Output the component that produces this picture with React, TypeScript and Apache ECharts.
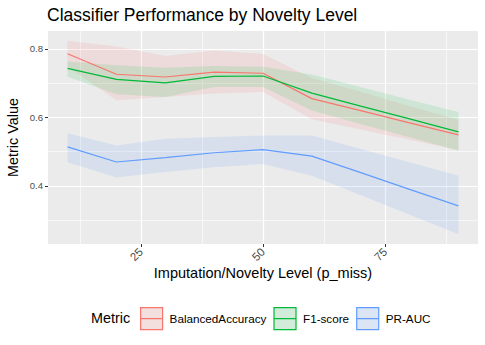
import React, { useEffect, useRef } from "react";
import * as echarts from "echarts";

// ---- data ----
const pMiss = [10, 20, 30, 40, 50, 60, 70, 80, 90];
const metrics = ["BalancedAccuracy", "F1-score", "PR-AUC"];

const baMean = [0.786, 0.726, 0.718, 0.732, 0.729, 0.655, 0.62, 0.584, 0.549];
const baLower = [0.748, 0.65, 0.66, 0.67, 0.674, 0.595, 0.565, 0.535, 0.505];
const baUpper = [0.824, 0.807, 0.779, 0.795, 0.785, 0.715, 0.675, 0.633, 0.593];

const f1Mean = [0.743, 0.711, 0.701, 0.72, 0.721, 0.671, 0.633, 0.596, 0.558];
const f1Lower = [0.719, 0.668, 0.66, 0.689, 0.689, 0.62, 0.581, 0.542, 0.503];
const f1Upper = [0.763, 0.752, 0.745, 0.75, 0.748, 0.725, 0.689, 0.652, 0.616];

const prMean = [0.514, 0.47, 0.483, 0.497, 0.506, 0.487, 0.439, 0.39, 0.342];
const prLower = [0.469, 0.425, 0.441, 0.455, 0.464, 0.43, 0.373, 0.316, 0.259];
const prUpper = [0.554, 0.518, 0.538, 0.543, 0.547, 0.547, 0.508, 0.469, 0.43];

const xMajorBreaks = [25, 50, 75];
const xMinorBreaks = [12.5, 37.5, 62.5, 87.5];
const yMajorBreaks = [0.4, 0.6, 0.8];
const yMinorBreaks = [0.3, 0.5, 0.7];

const means = [baMean, f1Mean, prMean];
const lowers = [baLower, f1Lower, prLower];
const uppers = [baUpper, f1Upper, prUpper];

const lineColors = ["#F8766D", "#00BA38", "#619CFF"];
const bandFills = [
  "rgba(248,118,109,0.13)",
  "rgba(0,186,56,0.12)",
  "rgba(97,156,255,0.14)",
];
const keyFills = ["#F3DFDE", "#D3ECDA", "#DCE5F4"];

const FONT = "'Liberation Sans', Arial, Helvetica, sans-serif";

export default function App() {
  const ref = useRef<HTMLDivElement>(null);

  useEffect(() => {
    if (!ref.current) return;
    const chart = echarts.init(ref.current, undefined, { renderer: "svg" });

    const allLo = Math.min(...lowers.flat());
    const allHi = Math.max(...uppers.flat());
    const yPad = (allHi - allLo) * 0.05;
    const xLo = Math.min(...pMiss);
    const xHi = Math.max(...pMiss);
    const xPad = (xHi - xLo) * 0.05;

    const series: any[] = [];

    const gridLine = (w: number) => ({ color: "#FFFFFF", type: "solid", width: w, opacity: 1 });

    // background grid lines through the axis scales
    series.push({
      name: "grid",
      type: "line",
      data: [],
      symbol: "none",
      silent: true,
      z: 1,
      markLine: {
        silent: true,
        symbol: ["none", "none"],
        z: 1,
        animation: false,
        label: { show: false },
        emphasis: { disabled: true },
        lineStyle: gridLine(1.2),
        data: [
          ...xMinorBreaks.map((v) => ({ xAxis: v, lineStyle: gridLine(0.6) })),
          ...yMinorBreaks.map((v) => ({ yAxis: v, lineStyle: gridLine(0.6) })),
          ...xMajorBreaks.map((v) => ({ xAxis: v, lineStyle: gridLine(1.2) })),
          ...yMajorBreaks.map((v) => ({ yAxis: v, lineStyle: gridLine(1.2) })),
        ],
      },
    });

    // ribbons
    metrics.forEach((m, i) => {
      series.push({
        name: m + " band",
        type: "custom",
        silent: true,
        z: 2,
        data: pMiss.map((x, j) => [x, lowers[i][j], uppers[i][j]]),
        encode: { x: 0, y: [1, 2] },
        renderItem: (params: any, api: any) => {
          if (params.dataIndex !== 0) return null;
          const pts: number[][] = [];
          for (let j = 0; j < pMiss.length; j++) pts.push(api.coord([pMiss[j], uppers[i][j]]));
          for (let j = pMiss.length - 1; j >= 0; j--) pts.push(api.coord([pMiss[j], lowers[i][j]]));
          return {
            type: "polygon",
            shape: { points: pts },
            style: { fill: bandFills[i], stroke: "none" },
          };
        },
      });
    });

    metrics.forEach((m, i) => {
      series.push({
        name: m,
        type: "line",
        data: pMiss.map((x, j) => [x, means[i][j]]),
        symbol: "none",
        showSymbol: false,
        lineStyle: { color: lineColors[i], width: 1.2 },
        itemStyle: { color: lineColors[i] },
        silent: true,
        z: 3,
      });
    });

    const option: any = {
      animation: false,
      textStyle: { fontFamily: FONT },
      title: [
        {
          text: "Classifier Performance by Novelty Level",
          left: 47,
          top: 6,
          padding: 0,
          textStyle: { fontSize: 17.5, fontWeight: "normal", color: "#000000", fontFamily: FONT },
        },
        {
          text: "Metric",
          left: 91,
          top: 311,
          padding: 0,
          textStyle: { fontSize: 14.4, fontWeight: "normal", color: "#000000", fontFamily: FONT },
        },
      ],
      grid: {
        left: 48,
        right: 7,
        top: 31,
        bottom: 101,
        show: true,
        backgroundColor: "#EBEBEB",
        borderWidth: 0,
        outerBoundsMode: "none",
        containLabel: false,
      },
      legend: {
        left: 140,
        top: 307,
        orient: "horizontal",
        itemWidth: 22,
        itemHeight: 22,
        itemGap: 7,
        selectedMode: false,
        padding: 0,
        textStyle: { fontSize: 11.7, color: "#000000", fontFamily: FONT, padding: [0, 0, 0, 2] },
        data: metrics.map((m, i) => ({
          name: m,
          icon: "path://M0,0H22V22H0Z M0,11H22",
          itemStyle: { color: keyFills[i], borderColor: lineColors[i], borderWidth: 1.2 },
        })),
      },
      xAxis: {
        type: "value",
        min: xLo - xPad,
        max: xHi + xPad,
        name: "Imputation/Novelty Level (p_miss)",
        nameLocation: "middle",
        nameGap: 21,
        nameMoveOverlap: false,
        nameTextStyle: { fontSize: 14.5, color: "#000000", fontFamily: FONT },
        axisLine: { show: false },
        axisTick: { show: true, customValues: xMajorBreaks, length: 3, lineStyle: { color: "#333333", width: 1 } },
        axisLabel: { customValues: xMajorBreaks, rotate: 45, fontSize: 11.5, color: "#4D4D4D", margin: 6, fontFamily: FONT },
        splitLine: { show: false },
      },
      yAxis: {
        type: "value",
        min: allLo - yPad,
        max: allHi + yPad,
        name: "Metric Value",
        nameLocation: "middle",
        nameGap: 28,
        nameMoveOverlap: false,
        nameTextStyle: { fontSize: 14.4, color: "#000000", fontFamily: FONT },
        axisLine: { show: false },
        axisTick: { show: true, customValues: yMajorBreaks, length: 3, lineStyle: { color: "#333333", width: 1 } },
        axisLabel: { customValues: yMajorBreaks, fontSize: 9.6, color: "#4D4D4D", margin: 5, fontFamily: FONT },
        splitLine: { show: false },
      },
      series,
    };

    chart.setOption(option);
    return () => chart.dispose();
  }, []);

  return (
    <div
      ref={ref}
      style={{ position: "fixed", left: 0, top: 0, width: 485, height: 345, background: "#FFFFFF" }}
    />
  );
}
